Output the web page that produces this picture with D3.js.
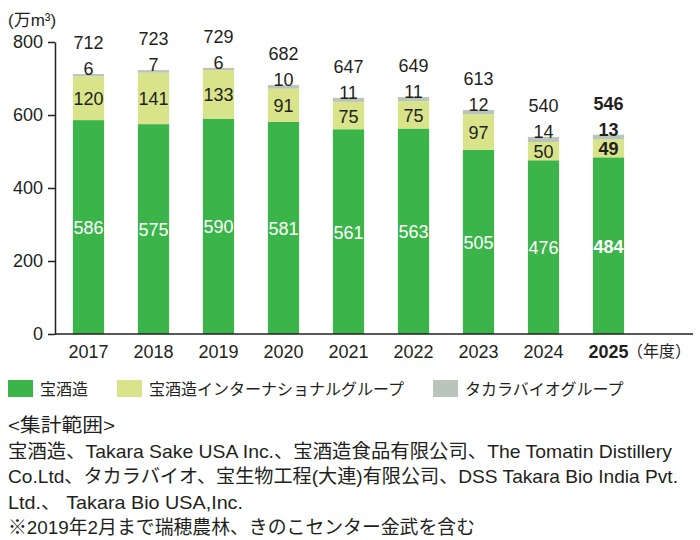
<!DOCTYPE html>
<html>
<head>
<meta charset="utf-8">
<script src="https://cdn.jsdelivr.net/npm/d3@7"></script>
<style>
  body { margin: 0; background: #fff; }
  text { font-family: "Liberation Sans", "Noto Sans CJK JP", sans-serif; fill: #231f20; }
  .jp { font-family: "Noto Sans CJK JP", sans-serif; }
</style>
</head>
<body>
<div id="chart"></div>
<script>
// data (単位: 万m3)
const years = ["2017", "2018", "2019", "2020", "2021", "2022", "2023", "2024", "2025"];
const takaraShuzo = [586, 575, 590, 581, 561, 563, 505, 476, 484];
const takaraIntl = [120, 141, 133, 91, 75, 75, 97, 50, 49];
const takaraBio = [6, 7, 6, 10, 11, 11, 12, 14, 13];
const totals = [712, 723, 729, 682, 647, 649, 613, 540, 546];
const yTicks = [0, 200, 400, 600, 800];
const seriesNames = ["宝酒造", "宝酒造インターナショナルグループ", "タカラバイオグループ"];
const noteLines = [
    "<集計範囲>",
    "宝酒造、Takara Sake USA Inc.、宝酒造食品有限公司、The Tomatin Distillery",
    "Co.Ltd、タカラバイオ、宝生物工程(大連)有限公司、DSS Takara Bio India Pvt.",
    "Ltd.、 Takara Bio USA,Inc.",
    "※2019年2月まで瑞穂農林、きのこセンター金武を含む"
];
// widths the note lines take in the reference
const noteWidths = [107, 664, 670, 235, 467];

const colors = ["#3bb54a", "#d9e48a", "#b9c5b8"];

const width = 700, height = 540;
const svg = d3.select("#chart").append("svg")
    .attr("width", width)
    .attr("height", height);

const rows = years.map((yr, i) => ({
    year: yr, s0: takaraShuzo[i], s1: takaraIntl[i], s2: takaraBio[i], total: totals[i]
}));
const stack = d3.stack().keys(["s0", "s1", "s2"])(rows);

const x = d3.scaleBand().domain(years).range([56, 641]).paddingInner(0.52).paddingOuter(0.26);
const y = d3.scaleLinear().domain([0, 800]).range([334, 42]);

// y axis
const yAxisG = svg.append("g")
    .attr("transform", "translate(55,0)")
    .call(d3.axisLeft(y).tickValues(yTicks).tickSize(7).tickSizeOuter(0).tickPadding(5));
yAxisG.select(".domain").attr("stroke", "#231f20").attr("stroke-width", 1.5);
yAxisG.selectAll(".tick line").attr("stroke", "#231f20").attr("stroke-width", 1.5);
yAxisG.selectAll(".tick text")
    .style("font-size", "18px")
    .style("font-family", "Liberation Sans")
    .attr("fill", "#231f20");

svg.append("text")
    .attr("x", 8).attr("y", 26)
    .style("font-size", "17px")
    .text("(万m³)");

// bars
const layer = svg.append("g").selectAll("g")
    .data(stack)
    .join("g")
    .attr("fill", (d, i) => colors[i]);

layer.selectAll("rect")
    .data(d => d)
    .join("rect")
    .attr("x", d => x(d.data.year))
    .attr("width", x.bandwidth())
    .attr("y", d => y(d[1]))
    .attr("height", d => y(d[0]) - y(d[1]));

// x baseline + labels
svg.append("line")
    .attr("x1", 55).attr("x2", 693)
    .attr("y1", y(0)).attr("y2", y(0))
    .attr("stroke", "#231f20").attr("stroke-width", 1.5);

const xAxisG = svg.append("g")
    .attr("transform", "translate(0," + y(0) + ")")
    .call(d3.axisBottom(x).tickSize(0).tickPadding(11));
xAxisG.select(".domain").remove();
xAxisG.selectAll(".tick text")
    .style("font-size", "18px")
    .style("font-family", "Liberation Sans")
    .attr("fill", "#231f20")
    .style("font-weight", d => d === "2025" ? "bold" : "normal");

svg.append("text")
    .attr("class", "jp")
    .attr("x", 627).attr("y", 357)
    .style("font-size", "16px")
    .attr("fill", "#333")
    .text("（年度）");

// value labels
const cx = d => x(d.year) + x.bandwidth() / 2;
const isLast = d => d.year === "2025";
const labels = svg.append("g")
    .attr("text-anchor", "middle")
    .style("font-size", "18px");

labels.selectAll(".lblGreen")
    .data(rows).join("text")
    .attr("class", "lblGreen")
    .attr("x", cx)
    .attr("y", d => y(d.s0 / 2) + 7)
    .style("fill", "#fff")
    .style("font-weight", d => isLast(d) ? "bold" : "normal")
    .text(d => d.s0);

labels.selectAll(".lblYellow")
    .data(rows).join("text")
    .attr("class", "lblYellow")
    .attr("x", cx)
    .attr("y", d => y(d.s0 + d.s1 / 2) + 7)
    .style("font-weight", d => isLast(d) ? "bold" : "normal")
    .text(d => d.s1);

labels.selectAll(".lblGray")
    .data(rows).join("text")
    .attr("class", "lblGray")
    .attr("x", cx)
    .attr("y", d => y(d.s0 + d.s1 + d.s2) + 1)
    .style("font-weight", d => isLast(d) ? "bold" : "normal")
    .text(d => d.s2);

labels.selectAll(".lblTotal")
    .data(rows).join("text")
    .attr("class", "lblTotal")
    .attr("x", cx)
    .attr("y", d => y(d.s0 + d.s1 + d.s2) - 25)
    .style("font-weight", d => isLast(d) ? "bold" : "normal")
    .text(d => d.total);

// legend
const legendX = [8, 117, 433];
const legend = svg.append("g").selectAll("g")
    .data(seriesNames)
    .join("g")
    .attr("transform", (d, i) => "translate(" + legendX[i] + ",380)");
legend.append("rect")
    .attr("width", 25).attr("height", 17)
    .attr("fill", (d, i) => colors[i]);
legend.append("text")
    .attr("class", "jp")
    .attr("x", 32).attr("y", 15)
    .style("font-size", "16px")
    .attr("fill", "#333")
    .text(d => d);

// notes
svg.append("g").selectAll("text")
    .data(noteLines)
    .join("text")
    .attr("x", 8)
    .attr("y", (d, i) => 432 + i * 25.5)
    .style("font-size", "19px")
    .attr("fill", "#333")
    .attr("textLength", (d, i) => noteWidths[i])
    .attr("lengthAdjust", "spacingAndGlyphs")
    .text(d => d);
</script>
</body>
</html>
